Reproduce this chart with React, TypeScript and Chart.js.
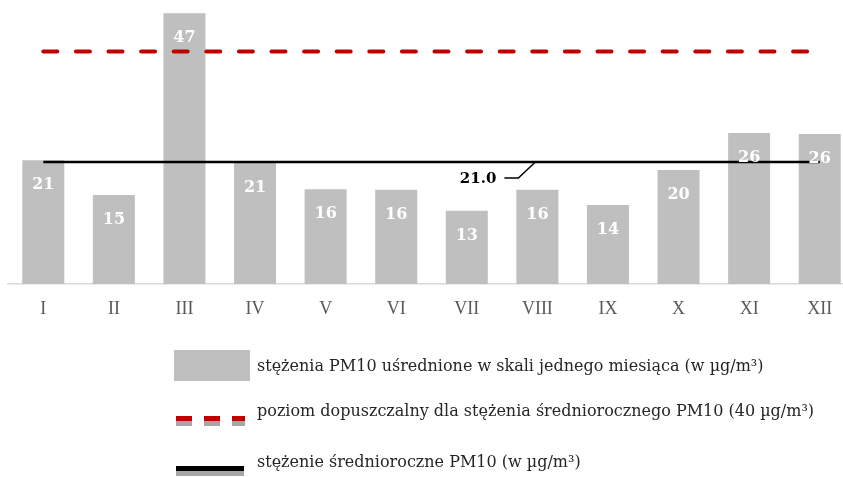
import React, { useEffect, useRef } from "react";
import { Chart, registerables } from "chart.js";

Chart.register(...registerables);

const months = ["I", "II", "III", "IV", "V", "VI", "VII", "VIII", "IX", "X", "XI", "XII"];
const monthlyPM10 = [21.3, 15.3, 46.6, 20.8, 16.3, 16.2, 12.6, 16.2, 13.6, 19.6, 26.0, 25.8];
const annualMeanLine = [21.0, 21.0, 21.0, 21.0, 21.0, 21.0, 21.0, 21.0, 21.0, 21.0, 21.0, 21.0];
const limitLine = [40, 40, 40, 40, 40, 40, 40, 40, 40, 40, 40, 40];
const annualMeanLabelIndex = 7;
const legendTexts = [
  "stężenia PM10 uśrednione w skali jednego miesiąca (w µg/m³)",
  "poziom dopuszczalny dla stężenia średniorocznego PM10 (40 µg/m³)",
  "stężenie średnioroczne PM10 (w µg/m³)",
];

const BAR = "#BFBFBF";
const RED = "#C00000";
const SERIF = "'Liberation Serif', 'DejaVu Serif', serif";
const NUMFONT = "'DejaVu Serif', 'Liberation Serif', serif";

const overlayPlugin = {
  id: "overlay",
  afterDatasetsDraw(chart: any) {
    const ctx = chart.ctx as CanvasRenderingContext2D;
    const barMeta = chart.getDatasetMeta(0);
    ctx.save();
    ctx.fillStyle = "#FFFFFF";
    ctx.font = `bold 16px ${NUMFONT}`;
    ctx.textAlign = "center";
    ctx.textBaseline = "middle";
    barMeta.data.forEach((el: any, i: number) => {
      const v = monthlyPM10[i];
      ctx.fillText(Math.round(v).toString(), el.x, el.y + 25);
    });
    const xs = chart.scales.x;
    const ys = chart.scales.y;
    const mx = xs.getPixelForValue(annualMeanLabelIndex);
    const my = ys.getPixelForValue(annualMeanLine[annualMeanLabelIndex]);
    ctx.strokeStyle = "#000";
    ctx.lineWidth = 1.5;
    ctx.beginPath();
    ctx.moveTo(mx - 2, my);
    ctx.lineTo(mx - 19, my + 16);
    ctx.lineTo(mx - 33, my + 16);
    ctx.stroke();
    ctx.fillStyle = "#000";
    ctx.font = `bold 15px ${NUMFONT}`;
    ctx.textAlign = "right";
    ctx.fillText(annualMeanLine[annualMeanLabelIndex].toFixed(1), mx - 41, my + 17);
    ctx.restore();
  },
  afterDraw(chart: any) {
    const ctx = chart.ctx as CanvasRenderingContext2D;
    ctx.save();
    ctx.fillStyle = BAR;
    ctx.fillRect(174, 350, 76, 31);
    const dashes = [
      [176, 16],
      [204, 16],
      [232, 13],
    ];
    dashes.forEach(([x, w]) => {
      ctx.fillStyle = RED;
      ctx.fillRect(x, 416, w, 5);
      ctx.fillStyle = "#A6A6A6";
      ctx.fillRect(x, 421, w, 5);
    });
    ctx.fillStyle = "#000";
    ctx.fillRect(176, 466, 68, 5);
    ctx.fillStyle = "#A6A6A6";
    ctx.fillRect(176, 471, 68, 5);
    ctx.fillStyle = "#262626";
    ctx.font = `16px ${NUMFONT}`;
    ctx.textAlign = "left";
    ctx.textBaseline = "middle";
    const ys = [367, 412, 463];
    legendTexts.forEach((t, i) => ctx.fillText(t, 257, ys[i]));
    ctx.restore();
  },
};

export default function App() {
  const ref = useRef<HTMLCanvasElement | null>(null);
  useEffect(() => {
    if (!ref.current) return;
    const chart = new Chart(ref.current, {
      type: "bar",
      data: {
        labels: months,
        datasets: [
          {
            type: "bar",
            label: legendTexts[0],
            data: monthlyPM10,
            backgroundColor: BAR,
            barPercentage: 0.595,
            categoryPercentage: 1,
            order: 3,
          },
          {
            type: "line",
            label: legendTexts[2],
            data: annualMeanLine,
            borderColor: "#000",
            borderWidth: 2.5,
            pointRadius: 0,
            fill: false,
            order: 1,
          } as any,
          {
            type: "line",
            label: legendTexts[1],
            data: limitLine,
            borderColor: RED,
            borderWidth: 4,
            borderDash: [14, 18.6],
            borderCapStyle: "round",
            pointRadius: 0,
            fill: false,
            order: 2,
          } as any,
        ],
      },
      options: {
        responsive: false,
        animation: false,
        layout: { padding: { top: 5, left: 8, right: 0, bottom: 153 } },
        plugins: { legend: { display: false }, tooltip: { enabled: false } },
        scales: {
          x: {
            grid: { display: false, drawTicks: false },
            border: { display: true, color: "#D9D9D9", width: 1.5 },
            ticks: { color: "#595959", font: { family: SERIF, size: 18 }, padding: 14 },
            afterFit: (s: any) => {
              s.height = 40;
            },
          },
          y: { display: false, min: 0, max: 48 },
        },
      },
      plugins: [overlayPlugin],
    });
    return () => chart.destroy();
  }, []);
  return (
    <div style={{ position: "absolute", left: 0, top: 0, width: 843, height: 477, overflow: "hidden", background: "#fff" }}>
      <canvas ref={ref} width={855} height={477} style={{ width: 855, height: 477, display: "block" }} />
    </div>
  );
}
